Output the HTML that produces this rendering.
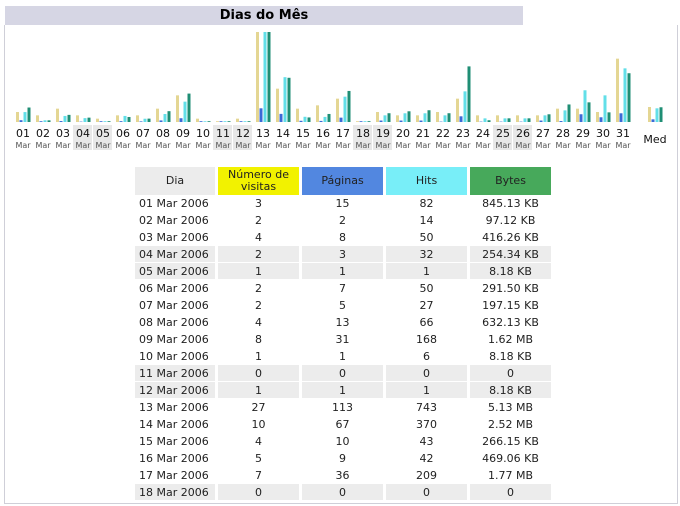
<!DOCTYPE html>
<html><head><meta charset="utf-8">
<style>
body{margin:0;width:680px;height:506px;background:#fff;overflow:hidden;font-family:"DejaVu Sans","Liberation Sans",sans-serif;position:relative}
#title{position:absolute;left:5px;top:6px;width:518px;height:19px;background:#d6d6e4;font:bold 13px "DejaVu Sans",sans-serif;text-align:center;line-height:19px;color:#000}
#box{position:absolute;left:4px;top:25px;width:672px;height:478px;border:1px solid #cfcfd8;border-top:none;background:#fff}
svg{position:absolute;left:0;top:0}
table{position:absolute;left:132px;top:167px;border-collapse:separate;border-spacing:3px 0;font-size:11px}
td,th{height:17px;padding:0;text-align:center;font-weight:normal;color:#222}
th{height:28px;font-size:11px;line-height:12px}
td.d{text-align:left;padding-left:4px}
tr.we td{background:#ececec;box-shadow:inset 0 -1px 0 #fff}
</style></head><body>
<div id="title">Dias do Mês</div>
<div id="box"></div>
<svg id="chart" width="680" height="160"></svg>
<table>
<thead><tr>
<th style="width:80px;background:#ececec">Dia</th>
<th style="width:81px;background:#f2f200">Número de<br>visitas</th>
<th style="width:81px;background:#5287e0">Páginas</th>
<th style="width:81px;background:#78eef8">Hits</th>
<th style="width:81px;background:#47a95b">Bytes</th>
</tr></thead>
<tbody id="tb"></tbody>
</table>
<script>
const days=["01","02","03","04","05","06","07","08","09","10","11","12","13","14","15","16","17","18","19","20","21","22","23","24","25","26","27","28","29","30","31"];
const weekend=[4,5,11,12,18,19,25,26];
const visits=[3,2,4,2,1,2,2,4,8,1,0,1,27,10,4,5,7,0,3,2,2,3,7,2,2,2,2,4,4,3,19];
const pages=[15,2,8,3,1,7,5,13,31,1,0,1,113,67,10,9,36,0,12,12,12,3,47,3,3,3,12,8,64,39,72];
const hits=[82,14,50,32,1,50,27,66,168,6,0,1,743,370,43,42,209,0,55,72,72,55,253,30,30,30,55,96,262,220,443];
const bytesKB=[845.13,97.12,416.26,254.34,8.18,291.5,197.15,632.13,1658.88,8.18,0,8.18,5253.12,2580.48,266.15,469.06,1812.48,0,512,625,686,512,3246,102,215,215,450,1024,1147,563,2847];
const bytesLabel=["845.13 KB","97.12 KB","416.26 KB","254.34 KB","8.18 KB","291.50 KB","197.15 KB","632.13 KB","1.62 MB","8.18 KB","0","8.18 KB","5.13 MB","2.52 MB","266.15 KB","469.06 KB","1.77 MB","0"];
const avg={visits:4.5,pages:22,hits:113,bytes:860};
const NS="http://www.w3.org/2000/svg";
const svg=document.getElementById('chart');
const base=122,H=90;
const maxV=Math.max(...visits),maxH=Math.max(...hits),maxB=Math.max(...bytesKB);
const yV=v=>v/maxV*H,yH=v=>v/maxH*H,yB=v=>v/maxB*H;
const cols=["#e4d693","#3b6ad6","#62dfe8","#1f8e74"];
const offs=[0,3.5,7.5,11.5];
function rect(x,y,w,h,f){const r=document.createElementNS(NS,'rect');r.setAttribute('x',x);r.setAttribute('y',y);r.setAttribute('width',w);r.setAttribute('height',h);r.setAttribute('fill',f);svg.appendChild(r);return r;}
function text(x,y,s,sz,f,fam){const t=document.createElementNS(NS,'text');t.setAttribute('x',x);t.setAttribute('y',y);t.setAttribute('font-size',sz);t.setAttribute('fill',f);t.setAttribute('text-anchor','middle');t.setAttribute('font-family',fam||'DejaVu Sans, sans-serif');t.textContent=s;svg.appendChild(t);return t;}
function bars(x0,vals,name){
  vals.forEach((h,k)=>{if(h<=0.3)h=0.8;const r=rect(x0+offs[k],base-h,3,h,cols[k]);
  
  });
}
days.forEach((d,i)=>{
  const x0=16+20*i;
  if(weekend.includes(i+1)){const bg=rect(x0-3,125,19,25,"#e8e8e8");}
  bars(x0,[yV(visits[i]),yH(pages[i]),yH(hits[i]),yB(bytesKB[i])],'bar-day-'+d);
  const t=text(x0+7,137,d,11,"#111");
  
  
  const m=text(x0+7,148,"Mar",8,"#555");
  
  
});
bars(648,[yV(avg.visits),yH(avg.pages),yH(avg.hits),yB(avg.bytes)],'bar-average');
const md=text(655,143,"Med",11,"#111");


const tb=document.getElementById('tb');
for(let i=0;i<18;i++){
  const tr=document.createElement('tr');
  if(weekend.includes(i+1))tr.className='we';
  
  
  tr.innerHTML=`<td class="d">${days[i]} Mar 2006</td><td>${visits[i]}</td><td>${pages[i]}</td><td>${hits[i]}</td><td>${bytesLabel[i]}</td>`;
  tb.appendChild(tr);
}
</script>
</body></html>
